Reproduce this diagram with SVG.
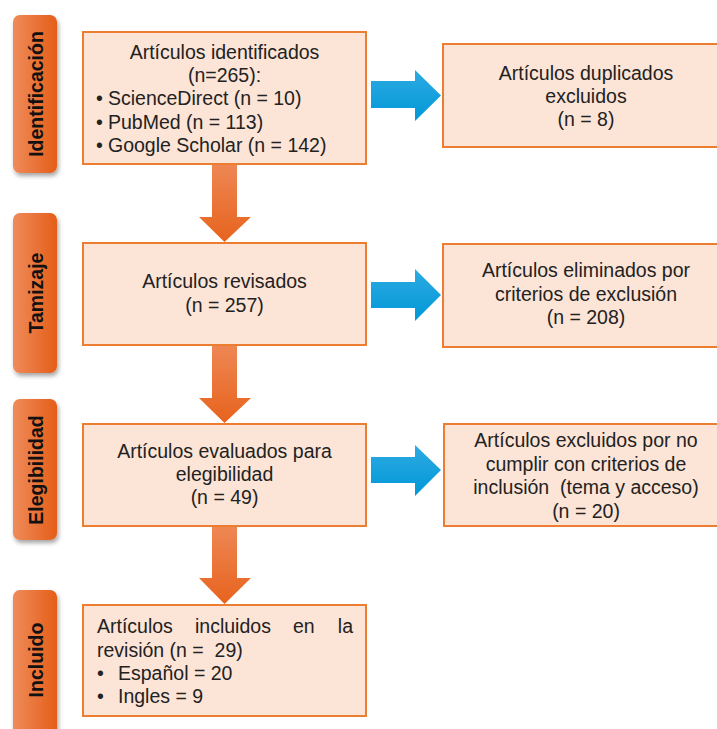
<svg xmlns="http://www.w3.org/2000/svg" width="717" height="729" viewBox="0 0 717 729">
<defs>
<linearGradient id="tabGrad" x1="0" y1="0" x2="1" y2="0">
<stop offset="0" stop-color="#EF8B5A"/>
<stop offset="1" stop-color="#E45E18"/>
</linearGradient>
<linearGradient id="downGrad" x1="0" y1="0" x2="0" y2="1">
<stop offset="0" stop-color="#EE8755"/>
<stop offset="1" stop-color="#E7631D"/>
</linearGradient>
<linearGradient id="blueGrad" x1="0" y1="0" x2="0" y2="1">
<stop offset="0" stop-color="#2EAAE2"/>
<stop offset="1" stop-color="#0098D7"/>
</linearGradient>
<filter id="shadow" x="-30%" y="-10%" width="160%" height="125%">
<feDropShadow dx="1.5" dy="3" stdDeviation="2" flood-color="#000" flood-opacity="0.35"/>
</filter>
</defs>
<style>
.box{fill:#FCE4D6;stroke:#ED7D31;stroke-width:2}
.tab{fill:url(#tabGrad);filter:url(#shadow)}
.t{font-family:"Liberation Sans",Arial,sans-serif;font-size:19.5px;fill:#222}
.c{text-anchor:middle}
.tl{font-family:"Liberation Sans",Arial,sans-serif;font-size:19.5px;font-weight:bold;fill:#111;text-anchor:middle}
.down{fill:url(#downGrad)}
.right{fill:url(#blueGrad)}
</style>
<rect width="717" height="729" fill="#FFFFFF"/>

<g id="tab-identificacion">
<rect class="tab" x="13" y="15" width="44" height="158" rx="7"/>
<text class="tl" transform="translate(42.5,94) rotate(-90)">Identificación</text>
</g>
<g id="tab-tamizaje">
<rect class="tab" x="13" y="213" width="44" height="160" rx="7"/>
<text class="tl" transform="translate(42.5,293) rotate(-90)">Tamizaje</text>
</g>
<g id="tab-elegibilidad">
<rect class="tab" x="13" y="399" width="44" height="141" rx="7"/>
<text class="tl" transform="translate(42.5,470) rotate(-90)">Elegibilidad</text>
</g>
<g id="tab-incluido">
<rect class="tab" x="13" y="590" width="44" height="150" rx="7"/>
<text class="tl" transform="translate(42.5,660) rotate(-90)">Incluido</text>
</g>

<g id="connectors">
<polygon class="down" points="212,164 237,164 237,217 251,217 224.5,242 199,217 212,217"/>
<polygon class="down" points="212,345 237,345 237,398 251,398 224.5,423 199,398 212,398"/>
<polygon class="down" points="212,526 237,526 237,578 251,578 224.5,604 199,578 212,578"/>
<polygon class="right" points="371,81 415,81 415,70 441,95.5 415,121 415,108 371,108"/>
<polygon class="right" points="371,282 415,282 415,269 441,295 415,321 415,308 371,308"/>
<polygon class="right" points="371,457 415,457 415,445 441,470 415,496 415,483 371,483"/>
</g>

<g id="node-identificados">
<rect class="box" x="83" y="32" width="283" height="132"/>
<text class="t c" x="224.5" y="58.5">Artículos identificados</text>
<text class="t c" x="224.5" y="82">(n=265):</text>
<text class="t" x="96" y="105">•</text><text class="t" x="108" y="105">ScienceDirect (n = 10)</text>
<text class="t" x="96" y="128.5">•</text><text class="t" x="108" y="128.5">PubMed (n = 113)</text>
<text class="t" x="96" y="152">•</text><text class="t" x="108" y="152">Google Scholar (n = 142)</text>
</g>

<g id="node-duplicados">
<rect class="box" x="443" y="44" width="290" height="103"/>
<text class="t c" x="586" y="80">Artículos duplicados</text>
<text class="t c" x="586" y="103">excluidos</text>
<text class="t c" x="586" y="126">(n = 8)</text>
</g>

<g id="node-revisados">
<rect class="box" x="83" y="243" width="283" height="102"/>
<text class="t c" x="224.5" y="288">Artículos revisados</text>
<text class="t c" x="224.5" y="311.5">(n = 257)</text>
</g>

<g id="node-eliminados">
<rect class="box" x="443" y="244" width="290" height="103"/>
<text class="t c" x="586" y="277">Artículos eliminados por</text>
<text class="t c" x="586" y="300.5">criterios de exclusión</text>
<text class="t c" x="586" y="324">(n = 208)</text>
</g>

<g id="node-evaluados">
<rect class="box" x="83" y="424" width="283" height="102"/>
<text class="t c" x="224.5" y="458">Artículos evaluados para</text>
<text class="t c" x="224.5" y="481">elegibilidad</text>
<text class="t c" x="224.5" y="504">(n = 49)</text>
</g>

<g id="node-excluidos">
<rect class="box" x="444" y="424" width="290" height="102"/>
<text class="t c" x="586" y="447">Artículos excluidos por no</text>
<text class="t c" x="586" y="470.5">cumplir con criterios de</text>
<text class="t c" x="586" y="494" xml:space="preserve">inclusión  (tema y acceso)</text>
<text class="t c" x="586" y="517.5">(n = 20)</text>
</g>

<g id="node-incluidos">
<rect class="box" x="83" y="605" width="283" height="111"/>
<text class="t" x="97" y="633">Artículos</text>
<text class="t" x="195" y="633">incluidos</text>
<text class="t" x="293" y="633">en</text>
<text class="t" x="353" y="633" text-anchor="end">la</text>
<text class="t" x="97" y="656.5" xml:space="preserve">revisión (n =  29)</text>
<text class="t" x="97" y="680">•</text><text class="t" x="118" y="680">Español = 20</text>
<text class="t" x="97" y="703">•</text><text class="t" x="118" y="703">Ingles = 9</text>
</g>
</svg>
